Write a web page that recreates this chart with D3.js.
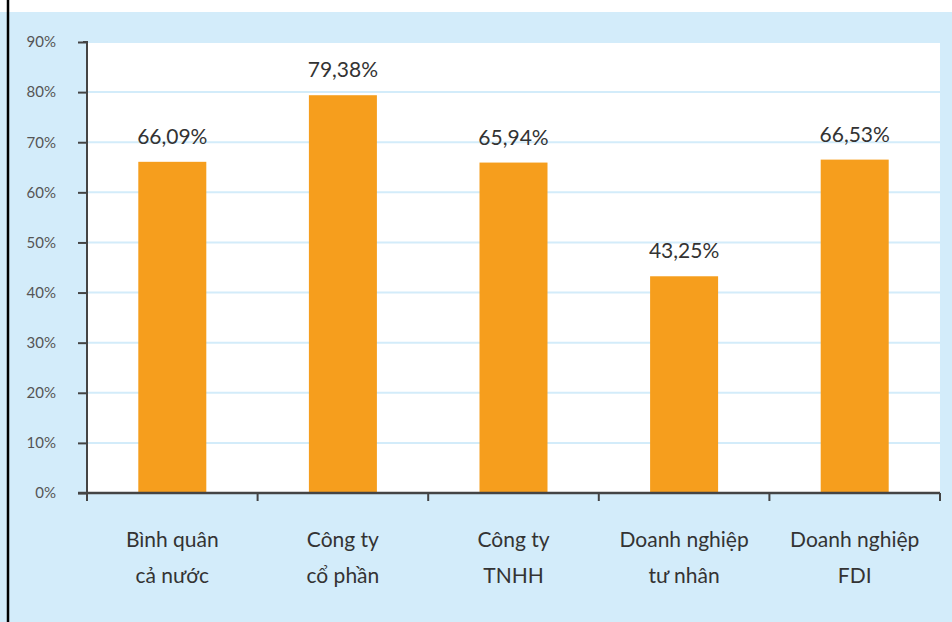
<!DOCTYPE html>
<html>
<head>
<meta charset="utf-8">
<script src="https://cdn.jsdelivr.net/npm/d3@7"></script>
<style>
  html, body { margin: 0; padding: 0; background: #fff; }
  svg { display: block; font-family: Lato, 'Open Sans', sans-serif; }
</style>
</head>
<body>
<div id="chart"></div>
<script>
// data
const categories = [
  ['Bình quân', 'cả nước'],
  ['Công ty', 'cổ phần'],
  ['Công ty', 'TNHH'],
  ['Doanh nghiệp', 'tư nhân'],
  ['Doanh nghiệp', 'FDI']
];
const values = [66.09, 79.38, 65.94, 43.25, 66.53];
const valueLabels = ['66,09%', '79,38%', '65,94%', '43,25%', '66,53%'];
const yTicks = [0, 10, 20, 30, 40, 50, 60, 70, 80, 90];

const W = 952, H = 622;
const margin = { top: 42, right: 12, bottom: 129, left: 87 };
const width = W - margin.left - margin.right;
const height = H - margin.top - margin.bottom;

const $svg = d3.select('#chart').append('svg')
  .attr('width', W)
  .attr('height', H);

// background panel
$svg.append('rect')
  .attr('x', 0).attr('y', 12)
  .attr('width', W).attr('height', H - 12)
  .attr('fill', '#d3ecfa');

$svg.append('line')
  .attr('x1', 8).attr('x2', 8)
  .attr('y1', 0).attr('y2', H)
  .attr('stroke', '#000')
  .attr('stroke-width', 2.5);

const $plot = $svg.append('g')
  .attr('transform', `translate(${margin.left}, ${margin.top})`);

const x = d3.scaleBand()
  .domain(d3.range(categories.length))
  .range([0, width]);

const y = d3.scaleLinear()
  .domain([0, 90])
  .range([height, 0]);

$plot.append('rect')
  .attr('width', width)
  .attr('height', height)
  .attr('fill', '#fff');

// grid
$plot.append('g')
  .selectAll('line')
  .data(yTicks.slice(1))
  .join('line')
  .attr('x1', 0).attr('x2', width)
  .attr('y1', d => y(d)).attr('y2', d => y(d))
  .attr('stroke', '#d3ecfa')
  .attr('stroke-width', 2);

const barW = 68;

$plot.append('g')
  .selectAll('rect')
  .data(values)
  .join('rect')
  .attr('x', (d, i) => x(i) + x.bandwidth() / 2 - barW / 2)
  .attr('width', barW)
  .attr('y', d => y(d))
  .attr('height', d => height - y(d))
  .attr('fill', '#f69e1d');

$plot.append('g')
  .selectAll('text')
  .data(values)
  .join('text')
  .attr('x', (d, i) => x(i) + x.bandwidth() / 2)
  .attr('y', d => y(d) - 18)
  .attr('text-anchor', 'middle')
  .attr('font-size', 21)
  .attr('fill', '#333')
  .text((d, i) => valueLabels[i]);

// y axis
const yAxis = d3.axisLeft(y)
  .tickValues(yTicks)
  .tickSize(9)
  .tickPadding(22)
  .tickFormat(d => d + '%');

$plot.append('g')
  .attr('class', 'axis y')
  .call(yAxis)
  .call(g => g.select('.domain').attr('d', `M0,${height}V0H-4`))
  .call(g => g.selectAll('line').attr('stroke', '#444').attr('stroke-width', 2))
  .call(g => g.select('.domain').attr('stroke', '#444').attr('stroke-width', 2))
  .call(g => g.selectAll('text')
    .attr('font-family', 'Lato, sans-serif')
    .attr('font-size', 15)
    .attr('fill', '#555'));

// x axis: ticks at band boundaries
const bounds = d3.range(categories.length + 1).map(i => i * x.step());

const $xa = $plot.append('g')
  .attr('transform', `translate(0, ${height})`);

$xa.append('line')
  .attr('x1', -9).attr('x2', width)
  .attr('stroke', '#444')
  .attr('stroke-width', 2.5);

$xa.selectAll('.xtick')
  .data(bounds)
  .join('line')
  .attr('class', 'xtick')
  .attr('x1', d => d).attr('x2', d => d)
  .attr('y1', 0).attr('y2', 8)
  .attr('stroke', '#444')
  .attr('stroke-width', 2);

$xa.selectAll('.xlabel')
  .data(categories)
  .join('text')
  .attr('class', 'xlabel')
  .attr('text-anchor', 'middle')
  .attr('font-size', 21)
  .attr('fill', '#333')
  .selectAll('tspan')
  .data((d, i) => d.map(t => ({ t, i })))
  .join('tspan')
  .attr('x', d => x(d.i) + x.bandwidth() / 2)
  .attr('y', (d, j) => 54 + j * 36)
  .text(d => d.t);
</script>
</body>
</html>
